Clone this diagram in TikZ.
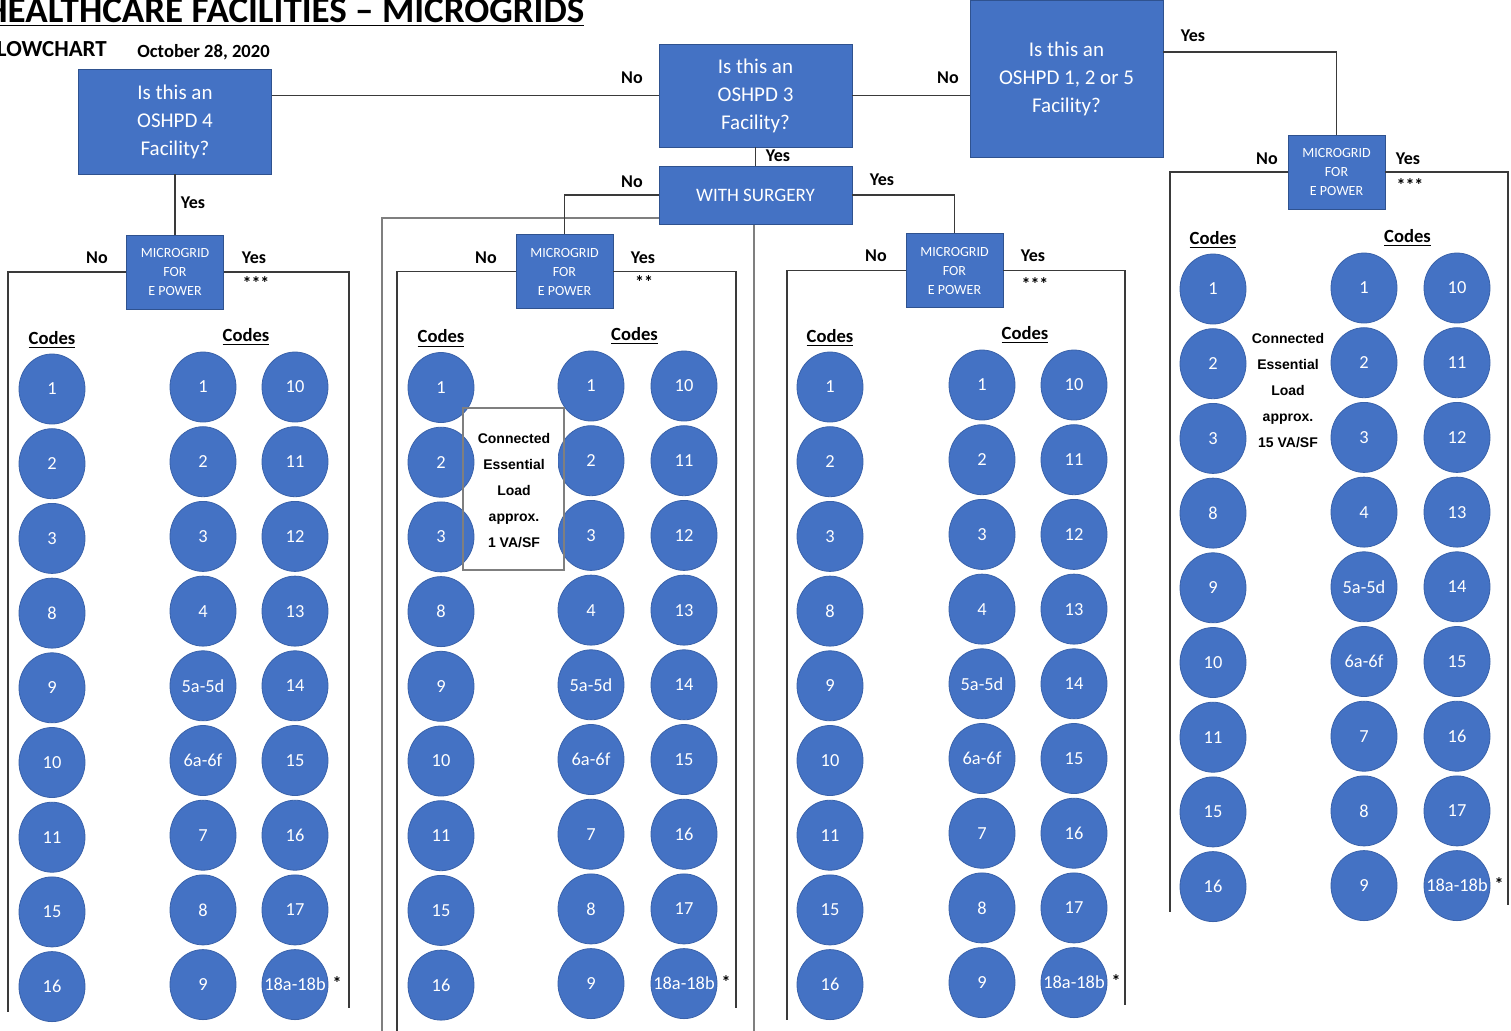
\documentclass[tikz,border=0pt]{standalone}
\usepackage{fontspec}
\setmainfont{Carlito}
\newfontfamily\arialfont{Liberation Sans}
\usetikzlibrary{shapes.geometric}
\definecolor{boxblue}{HTML}{4472C4}
\definecolor{boxedge}{HTML}{2F528F}
\definecolor{circedge}{HTML}{3A62AA}
\definecolor{framegray}{HTML}{7F7F7F}
\definecolor{wiregray}{HTML}{3A3A3A}
\newcommand{\codesno}{1,2,3,8,9,10,11,15,16}
\newcommand{\codesleft}{1,2,3,4,5a-5d,6a-6f,7,8,9}
\newcommand{\codesright}{10,11,12,13,14,15,16,17,18a-18b}
\tikzset{
	questionstyle/.style={rectangle,draw=boxedge,fill=boxblue,text=white,align=center,font=\fontsize{10.5}{14}\selectfont,minimum width=96.5pt,inner sep=0pt},
	gridstyle/.style={rectangle,draw=boxedge,fill=boxblue,text=white,align=center,font=\fontsize{7}{9.5}\selectfont,minimum width=48.5pt,minimum height=37pt,inner sep=0pt},
	codestyle/.style={ellipse,draw=circedge,fill=boxblue,text=white,font=\fontsize{9.2}{11}\selectfont,minimum width=33pt,minimum height=35pt,inner sep=0pt},
	answerstyle/.style={font=\bfseries\fontsize{9}{11}\selectfont,inner sep=0pt},
	headstyle/.style={font=\bfseries\fontsize{9.3}{11}\selectfont,inner sep=0pt},
	loadstyle/.style={align=center,font=\arialfont\bfseries\fontsize{7}{13}\selectfont,inner sep=0pt},
	loadbox/.style={rectangle,draw=framegray,line width=1pt,minimum width=50.5pt,minimum height=81pt},
	wirestyle/.style={draw=wiregray,line width=0.7pt}
}

\begin{document}
\begin{tikzpicture}[x=0.5pt,y=-0.5pt]
		\clip (0,0) rectangle (1511,1030);
		% heading
		\node[anchor=base west,inner sep=0pt,font=\bfseries\fontsize{18.5}{22}\selectfont] (title) at (-16,22) {\underline{HEALTHCARE FACILITIES – MICROGRIDS}};
		\node[anchor=base west,inner sep=0pt,font=\bfseries\fontsize{11.5}{14}\selectfont] (flow) at (-14,56) {FLOWCHART};
		\node[anchor=base west,inner sep=0pt,font=\bfseries\fontsize{9.3}{11}\selectfont] (date) at (137,57) {October 28, 2020};
		% frame round the surgery branch
		\draw[framegray,line width=1pt] (382,218) rectangle (754,1040);
		% questions
		\node[questionstyle,minimum height=52.5pt] (q4) at (175,121.5) {Is this an\\OSHPD 4\\Facility?};
		\node[questionstyle,minimum height=51.5pt] (q3) at (755.5,95.5) {Is this an\\OSHPD 3\\Facility?};
		\node[questionstyle,minimum height=78.5pt] (q125) at (1066.5,78.5) {Is this an\\OSHPD 1, 2 or 5\\Facility?};
		\node[questionstyle,minimum height=29pt,font=\fontsize{9.5}{11}\selectfont] (surg) at (755.5,195) {WITH SURGERY};
		% microgrid boxes
		\node[gridstyle] (mg1) at (175,272) {MICROGRID\\FOR\\E POWER};
		\node[gridstyle] (mg2) at (564.5,271.5) {MICROGRID\\FOR\\E POWER};
		\node[gridstyle] (mg3) at (954.5,270.5) {MICROGRID\\FOR\\E POWER};
		\node[gridstyle] (mg4) at (1336.5,172) {MICROGRID\\FOR\\E POWER};
		% connectors
		\coordinate (q125out) at (1163,52);
		\draw[wirestyle] (q3.west) -- (q3.west -| q4.east);
		\draw[wirestyle] (q3.east) -- (q3.east -| q125.west);
		\draw[wirestyle] (q125out) -| (mg4.north);
		\draw[wirestyle] (q3.south) -- (surg.north);
		\draw[wirestyle] (surg.west) -| (mg2.north);
		\draw[wirestyle] (surg.east) -| (mg3.north);
		\draw[wirestyle] (q4.south) -- (mg1.north);
		% branch ends
		\coordinate (b1l) at (8,1012);
		\coordinate (b1r) at (349,1008);
		\coordinate (b2l) at (397,1035);
		\coordinate (b2r) at (736,1008);
		\coordinate (b3l) at (787,1020);
		\coordinate (b3r) at (1125,1005);
		\coordinate (b4l) at (1170,912);
		\coordinate (b4r) at (1508,905);
		\draw[wirestyle] (mg1.west) -| (b1l);
		\draw[wirestyle] (mg1.east) -| (b1r);
		\draw[wirestyle] (mg2.west) -| (b2l);
		\draw[wirestyle] (mg2.east) -| (b2r);
		\draw[wirestyle] (mg3.west) -| (b3l);
		\draw[wirestyle] (mg3.east) -| (b3r);
		\draw[wirestyle] (mg4.west) -| (b4l);
		\draw[wirestyle] (mg4.east) -| (b4r);
		% answers
		\node[answerstyle] (q3no) at (632,78) {No};
		\node[answerstyle] (q125no) at (948,78) {No};
		\node[answerstyle] (q125yes) at (1193,36) {Yes};
		\node[answerstyle] (q3yes) at (778,156) {Yes};
		\node[answerstyle] (surgno) at (632,182) {No};
		\node[answerstyle] (surgyes) at (882,180) {Yes};
		\node[answerstyle] (q4yes) at (193,203) {Yes};
		\node[answerstyle] (mg1no) at (97,258) {No};
		\node[answerstyle] (mg1yes) at (254,258) {Yes};
		\node[answerstyle] (mg1star) at (256,283) {***};
		\node[answerstyle] (mg2no) at (486,258) {No};
		\node[answerstyle] (mg2yes) at (643,258) {Yes};
		\node[answerstyle] (mg2star) at (644,282) {**};
		\node[answerstyle] (mg3no) at (876,256) {No};
		\node[answerstyle] (mg3yes) at (1033,256) {Yes};
		\node[answerstyle] (mg3star) at (1035,284) {***};
		\node[answerstyle] (mg4no) at (1267,159) {No};
		\node[answerstyle] (mg4yes) at (1408,159) {Yes};
		\node[answerstyle] (mg4star) at (1410,185) {***};
		% code lists
		\foreach \g/\xn/\yn/\xa/\xb/\ya in {1/52/389/203/295/387,2/441/387.5/591/684/386,3/830/387/982/1074/385,4/1213/289/1364/1457/288}{
			\node[headstyle] (hn\g) at (\xn,{\yn-49}) {\underline{Codes}};
			\node[headstyle] (hy\g) at ({(\xa+\xb)/2-3},{\ya-50}) {\underline{Codes}};
			\foreach \t [count=\i] in \codesno
				\node[codestyle] (n\g-\i) at (\xn,{\yn+(\i-1)*74.7}) {\makebox[0pt]{\t}};
			\foreach \t [count=\i] in \codesleft
				\node[codestyle] (a\g-\i) at (\xa,{\ya+(\i-1)*74.7}) {\makebox[0pt]{\t}};
			\foreach \t [count=\i] in \codesright
				\node[codestyle] (b\g-\i) at (\xb,{\ya+(\i-1)*74.7}) {\makebox[0pt]{\t}};
			\node[answerstyle] (st\g) at ({\xb+42},{\ya+8*74.7-2}) {*};
		}
		% connected load notes
		\fill[white] (475,411) rectangle (558,567);
		\node[loadbox] (load2) at (513.5,489) {};
		\node[loadstyle] (load2txt) at (514,491) {Connected\\Essential\\Load\\approx.\\1 VA/SF};
		\node[loadstyle] (load4txt) at (1288,391) {Connected\\Essential\\Load\\approx.\\15 VA/SF};
\end{tikzpicture}
\end{document}
